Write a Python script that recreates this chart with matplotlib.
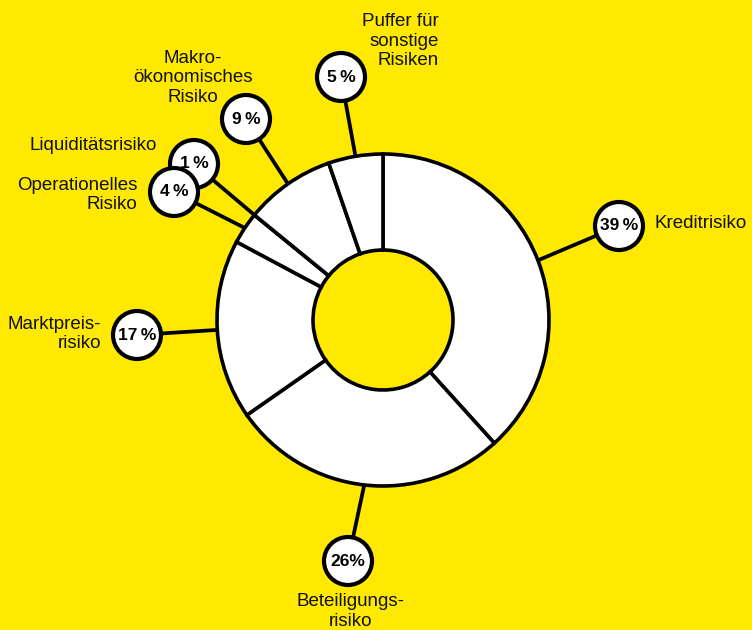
import numpy as np
import matplotlib
matplotlib.use("Agg")
import matplotlib.pyplot as plt
from matplotlib.patches import Circle

# ---- data ----
categories = ["Kreditrisiko", "Beteiligungsrisiko", "Marktpreisrisiko",
              "Operationelles Risiko", "Liquiditätsrisiko",
              "Makroökonomisches Risiko", "Puffer für sonstige Risiken"]
# slice sizes as drawn in the picture (share of the ring, %)
shares = [38.3, 27.0, 17.5, 3.1, 0.0, 8.8, 5.3]
# printed percentage labels
pct_labels = ["39\u2009%", "26%", "17\u2009%", "4\u2009%", "1\u2009%", "9\u2009%", "5\u2009%"]
# category label texts as printed
cat_texts = ["Kreditrisiko", "Beteiligungs-\nrisiko", "Marktpreis-\nrisiko",
             "Operationelles\nRisiko", "Liquiditätsrisiko",
             "Makro-\nökonomisches\nRisiko", "Puffer für\nsonstige\nRisiken"]

# ---- layout (pixel coordinates, y from top) ----
W, H = 752, 630
CX, CY = 383, 320
R_OUT, R_IN = 166, 70
bubble_pos = [(619, 226), (348, 561), (137, 335), (174, 192), (194, 164), (246, 119), (341, 77)]
text_pos = [(655, 224, "left", "center"), (350, 593, "center", "top"),
            (101, 334, "right", "center"), (137, 195, "right", "center"),
            (157, 146, "right", "center"), (193, 78, "center", "center"),
            (439, 41, "right", "center")]
draw_order = [0, 1, 2, 5, 6, 4, 3]

YELLOW = "#FFE900"
FONT = ["Liberation Sans", "DejaVu Sans"]

def P(x, y):
    return x, H - y

fig = plt.figure(figsize=(W / 100, H / 100), dpi=100, facecolor=YELLOW)
ax = fig.add_axes([0, 0, 1, 1])
ax.set_facecolor(YELLOW)

ax.pie(shares, startangle=90, counterclock=False, center=P(CX, CY), radius=R_OUT,
       colors=["white"] * len(shares),
       wedgeprops=dict(width=R_OUT - R_IN, edgecolor="black", linewidth=2.6,
                       joinstyle="miter"))

total = float(sum(shares))
cum = np.concatenate([[0], np.cumsum(shares)[:-1]])
mid_deg = 90 - 360 * (cum + np.array(shares) / 2) / total

for z, i in enumerate(draw_order):
    a = np.deg2rad(mid_deg[i])
    ex, ey = P(CX, CY)
    ex += R_OUT * np.cos(a)
    ey += R_OUT * np.sin(a)
    bx, by = P(*bubble_pos[i])
    ax.plot([ex, bx], [ey, by], color="black", lw=2.7, solid_capstyle="butt",
            zorder=3 + 2 * z)
    ax.add_patch(Circle((bx, by), 24, facecolor="white", edgecolor="black",
                        lw=3.0, zorder=4 + 2 * z))
    ax.text(bx, by, pct_labels[i], ha="center", va="center", fontsize=12.5,
            fontweight="bold", family=FONT, zorder=4 + 2 * z + 0.5)

for i, (tx, ty, ha, va) in enumerate(text_pos):
    ax.text(*P(tx, ty), cat_texts[i], ha=ha, va=va, multialignment=ha,
            fontsize=13.5, family=FONT, color="#111111", linespacing=1.22, zorder=30)

ax.set_xlim(0, W)
ax.set_ylim(0, H)
ax.set_aspect("equal")
ax.axis("off")

fig.savefig("out.png", dpi=100, facecolor=YELLOW)
